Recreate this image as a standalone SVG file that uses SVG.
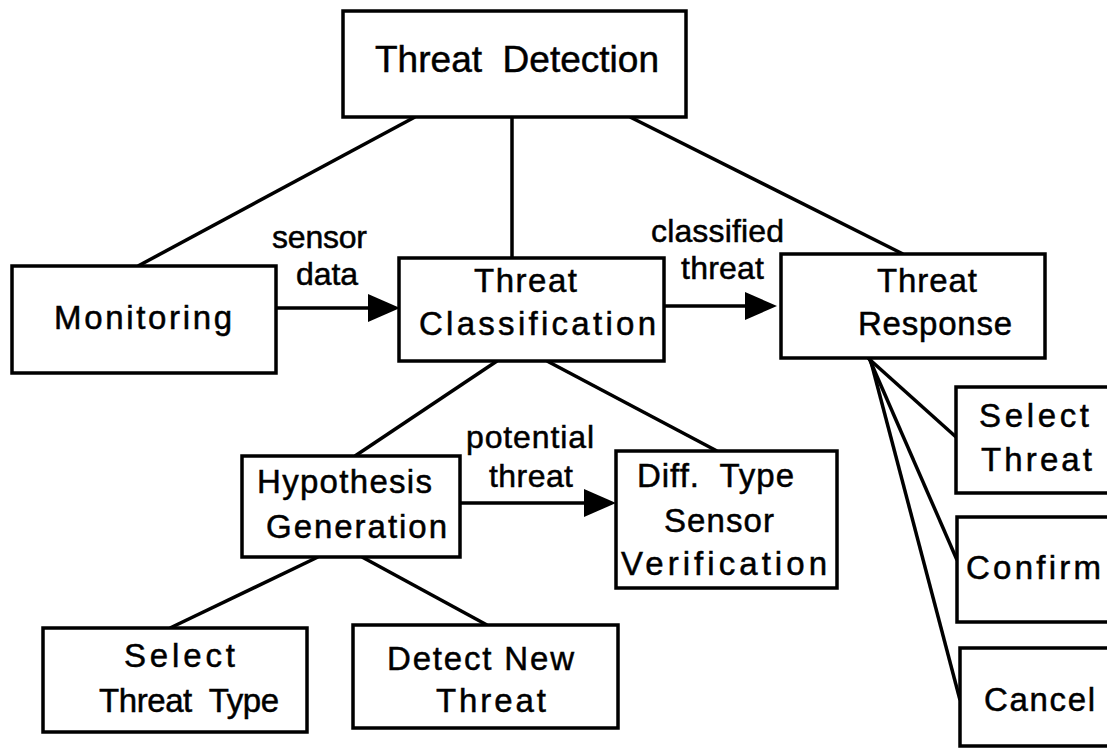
<svg xmlns="http://www.w3.org/2000/svg" width="1107" height="748" viewBox="0 0 1107 748">
  <style>
    .box { fill: #fff; stroke: #000; stroke-width: 3.5; }
    .lbl { font-family: "Liberation Sans", Arial, Helvetica, sans-serif; font-size: 33px; fill: #000; stroke: #000; stroke-width: 0.5; }
    .tag { font-size: 32px; }
    .big { font-size: 37px; }
    .link { stroke: #000; stroke-width: 3.5; fill: none; }
    .flow { stroke: #000; stroke-width: 3.5; fill: none; marker-end: url(#head); }
  </style>
  <defs>
    <marker id="head" markerUnits="userSpaceOnUse" markerWidth="34" markerHeight="30" refX="0" refY="14" orient="auto" overflow="visible">
      <path d="M0,0 L32,14 L0,28 Z" fill="#000"/>
    </marker>
  </defs>
  <rect width="1107" height="748" fill="#fff"/>

  <!-- connectors -->
  <g id="connectors">
    <line class="link" x1="415" y1="117" x2="138" y2="266"/>
    <line class="link" x1="512" y1="117" x2="512" y2="258"/>
    <line class="link" x1="630" y1="117" x2="903" y2="254"/>
    <line class="link" x1="497" y1="361" x2="355" y2="456"/>
    <line class="link" x1="547" y1="361" x2="717" y2="451"/>
    <line class="link" x1="318" y1="557" x2="170" y2="628"/>
    <line class="link" x1="362" y1="557" x2="487" y2="625"/>
    <line class="link" x1="868" y1="358" x2="956" y2="437"/>
    <line class="link" x1="869" y1="358" x2="957" y2="560"/>
    <line class="link" x1="870" y1="358" x2="960" y2="700"/>
    <line class="flow" x1="276" y1="308" x2="368" y2="308"/>
    <line class="flow" x1="664" y1="306" x2="745" y2="306"/>
    <line class="flow" x1="460" y1="503" x2="584" y2="503"/>
    <text class="lbl tag" x="272" y="248" textLength="95" lengthAdjust="spacing">sensor</text>
    <text class="lbl tag" x="296" y="285" textLength="62" lengthAdjust="spacing">data</text>
    <text class="lbl tag" x="651" y="242" textLength="133" lengthAdjust="spacing">classified</text>
    <text class="lbl tag" x="681" y="279" textLength="83" lengthAdjust="spacing">threat</text>
    <text class="lbl tag" x="466" y="448" textLength="128" lengthAdjust="spacing">potential</text>
    <text class="lbl tag" x="489" y="487" textLength="84" lengthAdjust="spacing">threat</text>
  </g>

  <!-- nodes -->
  <g id="threat-detection">
    <rect class="box" x="343" y="11" width="343" height="106"/>
    <text class="lbl big" x="375" y="72" textLength="284" lengthAdjust="spacing" xml:space="preserve">Threat  Detection</text>
  </g>
  <g id="monitoring">
    <rect class="box" x="12" y="266" width="264" height="107"/>
    <text class="lbl" x="54" y="329" textLength="178" lengthAdjust="spacing">Monitoring</text>
  </g>
  <g id="threat-classification">
    <rect class="box" x="399" y="258" width="265" height="103"/>
    <text class="lbl" x="474" y="292" textLength="103" lengthAdjust="spacing">Threat</text>
    <text class="lbl" x="419" y="335" textLength="237" lengthAdjust="spacing">Classification</text>
  </g>
  <g id="threat-response">
    <rect class="box" x="781" y="254" width="264" height="104"/>
    <text class="lbl" x="877" y="292" textLength="100" lengthAdjust="spacing">Threat</text>
    <text class="lbl" x="858" y="335" textLength="154" lengthAdjust="spacing">Response</text>
  </g>
  <g id="hypothesis-generation">
    <rect class="box" x="242" y="456" width="218" height="101"/>
    <text class="lbl" x="257" y="493" textLength="175" lengthAdjust="spacing">Hypothesis</text>
    <text class="lbl" x="266" y="538" textLength="181" lengthAdjust="spacing">Generation</text>
  </g>
  <g id="sensor-verification">
    <rect class="box" x="616" y="451" width="221" height="137"/>
    <text class="lbl" x="637" y="487" textLength="157" lengthAdjust="spacing" xml:space="preserve">Diff.  Type</text>
    <text class="lbl" x="664" y="532" textLength="110" lengthAdjust="spacing">Sensor</text>
    <text class="lbl" x="621" y="575" textLength="206" lengthAdjust="spacing">Verification</text>
  </g>
  <g id="select-threat-type">
    <rect class="box" x="43" y="628" width="264" height="104"/>
    <text class="lbl" x="124" y="667" textLength="111" lengthAdjust="spacing">Select</text>
    <text class="lbl" x="99" y="712" textLength="180" lengthAdjust="spacing" xml:space="preserve">Threat  Type</text>
  </g>
  <g id="detect-new-threat">
    <rect class="box" x="353" y="625" width="265" height="103"/>
    <text class="lbl" x="387" y="670" textLength="187" lengthAdjust="spacing">Detect New</text>
    <text class="lbl" x="436" y="712" textLength="110" lengthAdjust="spacing">Threat</text>
  </g>
  <g id="select-threat">
    <rect class="box" x="956" y="387" width="170" height="106"/>
    <text class="lbl" x="979" y="427" textLength="110" lengthAdjust="spacing">Select</text>
    <text class="lbl" x="981" y="471" textLength="111" lengthAdjust="spacing">Threat</text>
  </g>
  <g id="confirm">
    <rect class="box" x="957" y="517" width="170" height="105"/>
    <text class="lbl" x="966" y="579" textLength="135" lengthAdjust="spacing">Confirm</text>
  </g>
  <g id="cancel">
    <rect class="box" x="960" y="648" width="170" height="98"/>
    <text class="lbl" x="984" y="711" textLength="111" lengthAdjust="spacing">Cancel</text>
  </g>
</svg>
